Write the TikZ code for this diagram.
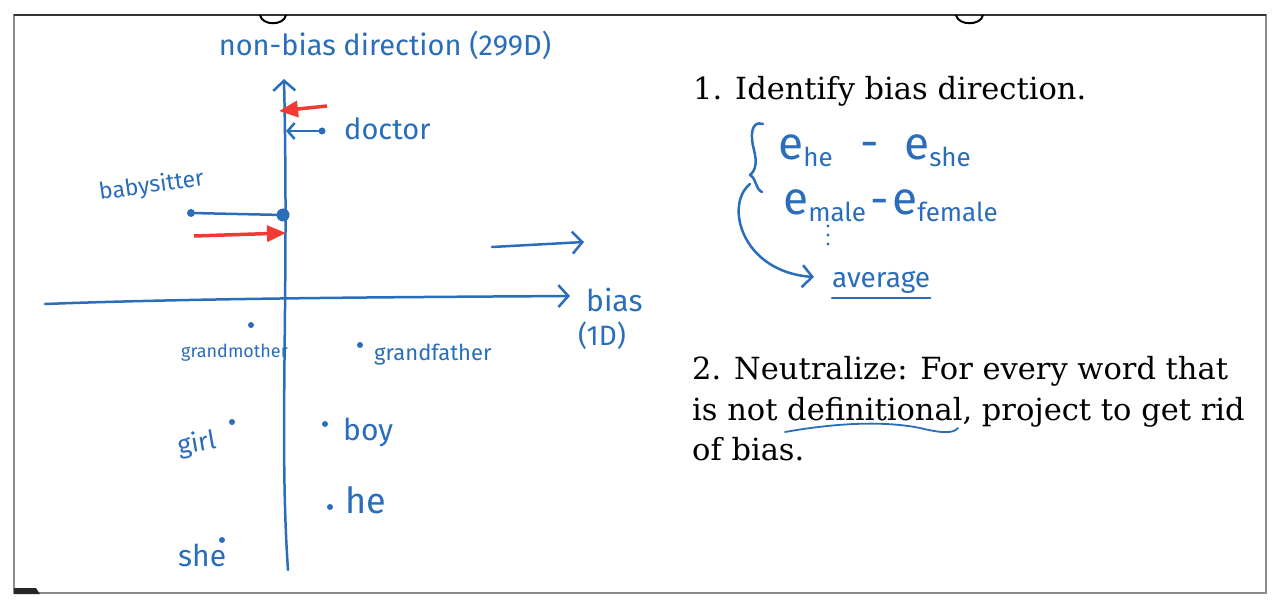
\documentclass[tikz,border=0pt]{standalone}
\usepackage{fontspec}
\setmainfont{DejaVu Serif}
\newfontfamily\handfont{Fira Sans}
\usetikzlibrary{arrows.meta,positioning}
\definecolor{inkblue}{HTML}{2A6EBB}
\definecolor{inkred}{HTML}{F03A32}
\definecolor{framegray}{HTML}{8C8C8C}
\newcommand{\inksub}[1]{\raisebox{-7pt}{\fontsize{26}{26}\selectfont #1}}
\tikzset{
  ink/.style={draw=inkblue, line width=2.5pt, line cap=round, line join=round},
  hand/.style={text=inkblue, font=\handfont\fontsize{#1}{#1}\selectfont, inner sep=0pt},
  hand/.default=24,
  wdot/.style={circle, fill=inkblue, inner sep=0pt, minimum size=#1},
  wdot/.default=6pt,
  barb/.style={-{Straight Barb[length=10pt,width=22pt]}},
  redarrow/.style={draw=inkred, line width=3.5pt, -{Triangle[length=19pt,width=16pt]}},
  slide/.style={text=black, font=\fontsize{30.5}{40}\selectfont, anchor=base west, inner sep=0pt}
}
\begin{document}
\begin{tikzpicture}[x=1pt, y=-1pt]
  \useasboundingbox (0,0) rectangle (1281,609);
  \fill[white] (0,0) rectangle (1281,609);

  % slide frame
  \draw[framegray, line width=2.5pt] (14,15) rectangle (1266,593);
  \draw[black!80, line width=2pt] (14,15) -- (1266,15);
  \draw[black, line width=2pt] (260,15) .. controls (262,26) and (284,26) .. (286,15);
  \draw[black, line width=2pt] (956,15) .. controls (958,26) and (981,26) .. (983,15);
  \fill[black!85] (14,588) -- (36,588) -- (40,594) -- (14,594) -- cycle;

  % axes
  \coordinate (vbot) at (288,570);
  \coordinate (vtop) at (284,79);
  \coordinate (hleft) at (45,304);
  \coordinate (hright) at (570,296);
  \draw[ink, barb] (vbot) .. controls (279,440) and (289,300) .. (vtop);
  \draw[ink, barb] (hleft) .. controls (200,298) and (420,297) .. (hright);

  \node[hand=29] (vlabel) at (385,45) {non-bias direction (299D)};
  \node[hand=30, anchor=west] (hlabel) at (586,300) {bias};
  \node[hand=28] (hdim) at (602,336) {(1D)};

  \coordinate (shifttail) at (492,247);
  \coordinate (shifthead) at (584,242);
  \draw[ink, barb] (shifttail) -- (shifthead);

  % projected words
  \node[wdot=7pt] (doctordot) at (322,131) {};
  \coordinate (doctorfoot) at (286,131);
  \draw[ink, -{Straight Barb[length=7pt,width=16pt]}] (doctordot) -- (doctorfoot);
  \node[hand=29, anchor=base west] (doctor) at (344,140) {doctor};
  \coordinate (redatail) at (327,106);
  \coordinate (redahead) at (279,111);
  \draw[redarrow] (redatail) -- (redahead);

  \node[wdot=8pt] (sitterdot) at (191,213) {};
  \node[wdot=13pt] (sitterfoot) at (283,215) {};
  \draw[ink] (sitterdot) -- (sitterfoot);
  \node[hand=23, anchor=base west, rotate=8] (sitter) at (100,200) {babysitter};
  \coordinate (redbtail) at (194,236);
  \coordinate (redbhead) at (286,233);
  \draw[redarrow] (redbtail) -- (redbhead);

  % definitional words
  \node[wdot] (gmdot) at (251,325) {};
  \node[hand=18, anchor=base west] (grandmother) at (181,357) {grandmother};
  \node[wdot] (gfdot) at (360,345) {};
  \node[hand=22, anchor=base west] (grandfather) at (374,360) {grandfather};
  \node[wdot] (girldot) at (232,422) {};
  \node[hand=26, anchor=base west, rotate=10] (girl) at (179,455) {girl};
  \node[wdot] (boydot) at (325,424) {};
  \node[hand=30, anchor=base west] (boy) at (343,440) {boy};
  \node[wdot] (hedot) at (330,507) {};
  \node[hand=36, anchor=base west] (he) at (345,513) {he};
  \node[wdot] (shedot) at (222,540) {};
  \node[hand=30, anchor=base west] (she) at (178,566) {she};

  % step 1
  \node[slide] (stepa) at (693,100) {1. Identify bias direction.};
  \node[hand=46, anchor=base west] (ehe) at (778,160) {e\inksub{he}};
  \node[hand=46] (minusa) at (870,150) {-};
  \node[hand=46, anchor=base west] (eshe) at (904,160) {e\inksub{she}};
  \node[hand=46, anchor=base west] (emale) at (783,215) {e\inksub{male}};
  \node[hand=46] (minusb) at (880,207) {-};
  \node[hand=46, anchor=base west] (efemale) at (892,215) {e\inksub{female}};
  \foreach \dy in {226,235,244}
    \fill[inkblue] (828,\dy) circle (1.6pt);
  \draw[ink] (763,124) .. controls (751,120) and (750,136) .. (754,150)
    .. controls (757,162) and (756,170) .. (750,175)
    .. controls (757,179) and (755,189) .. (762,192);
  \node[hand=28, anchor=base west] (avg) at (832,288) {average};
  \coordinate (avgstart) at (750,184);
  \draw[ink, barb] (avgstart) .. controls (724,205) and (742,272) .. (814,277);
  \draw[ink] ([yshift=-10pt]avg.base west) -- ([yshift=-10pt]avg.base east);

  % step 2
  \node[slide] (stepb) at (692,379) {2. Neutralize: For every word that};
  \node[slide] (stepc) at ([yshift=-41pt]stepb.base west) {is not definitional, project to get rid};
  \node[slide] (stepd) at ([yshift=-40pt]stepc.base west) {of bias.};
  \draw[ink, line width=1.8pt] (785,432) .. controls (830,424) and (880,420) .. (920,428)
    .. controls (944,434) and (954,433) .. (958,428);
\end{tikzpicture}
\end{document}
